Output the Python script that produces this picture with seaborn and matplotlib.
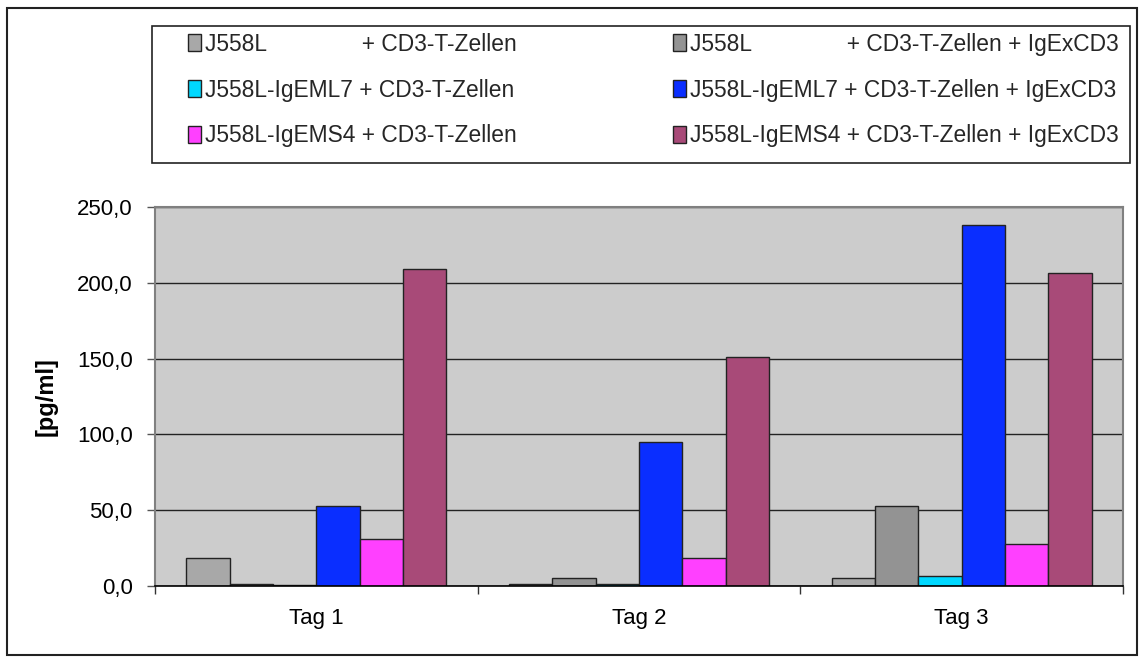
import matplotlib
matplotlib.use("Agg")
import matplotlib.pyplot as plt
from matplotlib.patches import Rectangle
import seaborn as sns
import pandas as pd

# Measured IL-2 concentration per day and cell combination
tage = ["Tag 1", "Tag 2", "Tag 3"]
gruppen = [
    "J558L               + CD3-T-Zellen",
    "J558L               + CD3-T-Zellen + IgExCD3",
    "J558L-IgEML7 + CD3-T-Zellen",
    "J558L-IgEML7 + CD3-T-Zellen + IgExCD3",
    "J558L-IgEMS4 + CD3-T-Zellen",
    "J558L-IgEMS4 + CD3-T-Zellen + IgExCD3",
]
j558l_cd3 = [18.3, 1.1, 5.0]
j558l_cd3_igex = [1.1, 5.0, 52.6]
eml7_cd3 = [0.9, 1.0, 6.4]
eml7_cd3_igex = [52.6, 94.7, 238.2]
ems4_cd3 = [31.2, 18.3, 27.5]
ems4_cd3_igex = [209.2, 151.0, 206.3]
farben = ["#A8A8A8", "#939393", "#00D8FF", "#0A2EFF", "#FF40FF", "#A84A78"]
y_ticks = [0, 50, 100, 150, 200, 250]
y_ticklabels = ["0,0", "50,0", "100,0", "150,0", "200,0", "250,0"]

reihen = [j558l_cd3, j558l_cd3_igex, eml7_cd3, eml7_cd3_igex, ems4_cd3, ems4_cd3_igex]
df = pd.DataFrame(
    [(t, g, v) for g, werte in zip(gruppen, reihen) for t, v in zip(tage, werte)],
    columns=["Tag", "Gruppe", "Wert"],
)

sns.set_theme(style="white")
plt.rcParams["font.family"] = ["Liberation Sans", "DejaVu Sans"]
FS = 16

W, H = 1145, 662
fig = plt.figure(figsize=(W / 100, H / 100), dpi=100)
fig.patch.set_facecolor("white")

def fx(px):
    return px / W

def fy(py):
    return 1 - py / H

ax = fig.add_axes([fx(155), fy(586), fx(1123) - fx(155), fy(207) - fy(586)])
ax.set_facecolor("#CCCCCC")

sns.barplot(
    data=df, x="Tag", y="Wert", hue="Gruppe", hue_order=gruppen, order=tage,
    palette=farben, saturation=1, width=0.806, dodge=True,
    edgecolor="#222222", linewidth=1.0, ax=ax, legend=True, errorbar=None,
)

ax.set_ylim(0, 250)
ax.set_xlim(-0.5, 2.5)
ax.set_yticks(y_ticks)
ax.set_yticklabels(y_ticklabels, fontsize=FS, color="black")
ax.set_axisbelow(True)
ax.yaxis.grid(True, color="#222222", linewidth=1.0)
ax.xaxis.grid(False)

ax.set_xticks([0, 1, 2])
ax.set_xticklabels(tage, fontsize=FS, color="black")
ax.tick_params(axis="x", which="major", length=0, pad=16)
ax.set_xticks([-0.5, 0.5, 1.5, 2.5], minor=True)
ax.tick_params(axis="x", which="minor", length=6, width=1, color="#333333", direction="out", bottom=True)
ax.tick_params(axis="y", which="major", length=6, width=1, color="#555555", direction="out", left=True, pad=10)

ax.set_xlabel("")
ax.set_ylabel("[pg/ml]", fontsize=17, fontweight="bold", labelpad=14, color="black")

for side in ["top", "right", "left"]:
    ax.spines[side].set_visible(True)
    ax.spines[side].set_color("#808080")
    ax.spines[side].set_linewidth(1.5)
ax.spines["bottom"].set_color("black")
ax.spines["bottom"].set_linewidth(1.2)

handles, labels = ax.get_legend_handles_labels()
ax.get_legend().remove()
reihenfolge = [0, 2, 4, 1, 3, 5]
leg = fig.legend(
    [handles[i] for i in reihenfolge], [labels[i] for i in reihenfolge],
    ncol=2, mode="expand", loc="center",
    bbox_to_anchor=(fx(188), fy(154), fx(1119) - fx(188), fy(26) - fy(154)),
    bbox_transform=fig.transFigure, frameon=False, fontsize=16.4,
    handlelength=0.55, handleheight=0.75, handletextpad=0.2,
    labelspacing=1.0, borderpad=0, borderaxespad=0,
)

# Legend frame and chart border
fig.add_artist(Rectangle((fx(152), fy(163)), fx(1130) - fx(152), fy(26) - fy(163),
                         transform=fig.transFigure, fill=False, edgecolor="#222222", linewidth=1.2))
fig.add_artist(Rectangle((fx(7), fy(655)), fx(1137) - fx(7), fy(8) - fy(655),
                         transform=fig.transFigure, fill=False, edgecolor="#222222", linewidth=1.5))

fig.savefig("out.png", dpi=100, facecolor="white")
